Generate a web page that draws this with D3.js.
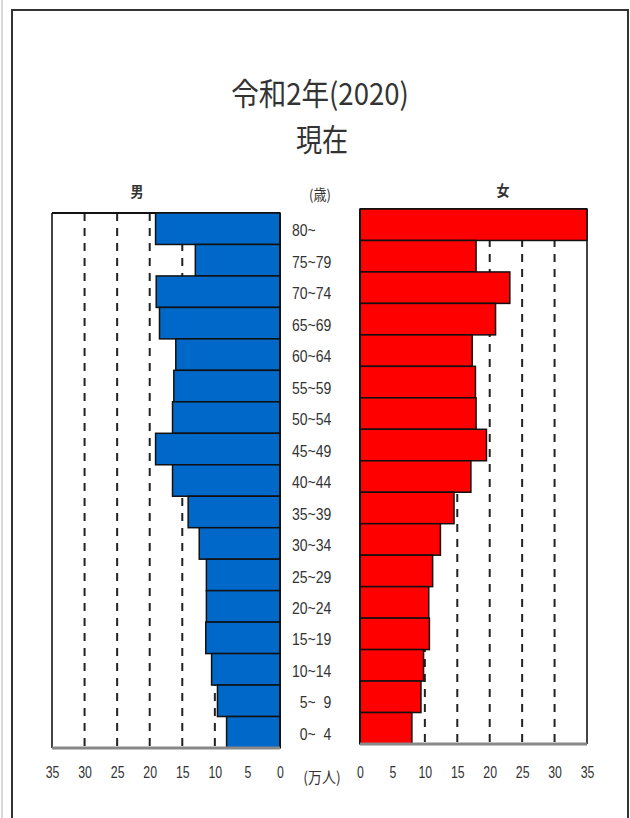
<!DOCTYPE html>
<html>
<head>
<meta charset="utf-8">
<script src="https://cdn.jsdelivr.net/npm/d3@7"></script>
<style>
  body { margin: 0; background: #fff; }
  text { font-family: "Liberation Sans", Arial, "Noto Sans CJK JP", sans-serif; fill: #333; }
  .cjk { font-family: "Noto Sans CJK JP", sans-serif; }
</style>
</head>
<body>
<svg id="chart"></svg>
<script>
// 年齢階級（上から）
const ages = ["80~", "75~79", "70~74", "65~69", "60~64", "55~59", "50~54", "45~49",
  "40~44", "35~39", "30~34", "25~29", "20~24", "15~19", "10~14", "\u20075~\u20079", "\u20070~\u20074"];
// 男（万人）
const male = [19.1, 13.0, 19.0, 18.5, 16.0, 16.3, 16.5, 19.1, 16.5, 14.1, 12.4, 11.3, 11.3, 11.4, 10.5, 9.6, 8.2];
// 女（万人）
const female = [35.0, 17.9, 23.1, 20.9, 17.3, 17.8, 17.9, 19.5, 17.1, 14.5, 12.4, 11.2, 10.6, 10.7, 9.8, 9.4, 8.0];
const ticks = [0, 5, 10, 15, 20, 25, 30, 35];
const gridTicks = [10, 15, 20, 25, 30];

const width = 630, height = 818;
const svg = d3.select("#chart").attr("width", width).attr("height", height);

// 外枠
svg.append("line").attr("x1", 2).attr("x2", 2).attr("y1", 0).attr("y2", height)
  .attr("stroke", "#ccc").attr("stroke-width", 1.5);
svg.append("rect").attr("x", 12).attr("y", 10).attr("width", 616).attr("height", 820)
  .attr("fill", "none").attr("stroke", "#333").attr("stroke-width", 2);

// 縦に少し伸ばした文字
function label(x, y, txt, size, sx, sy, cls) {
  return svg.append("text")
    .attr("class", cls || null)
    .attr("transform", `translate(${x},${y}) scale(${sx},${sy})`)
    .attr("text-anchor", "middle")
    .style("font-size", size + "px")
    .text(txt);
}

label(320, 105, "令和2年(2020)", 29, 0.95, 1.05, "cjk");
label(322, 151, "現在", 29, 0.9, 1.05, "cjk");
label(137, 197, "男", 13, 1, 1.1, "cjk").style("font-weight", 700);
label(503, 196, "女", 13, 1, 1.1, "cjk").style("font-weight", 700);
label(320, 200, "(歳)", 13, 1, 1.1, "cjk");
label(322, 783, "(万人)", 14, 1, 1.1, "cjk");

const xm = d3.scaleLinear().domain([0, 35]).range([280, 52]);
const xf = d3.scaleLinear().domain([0, 35]).range([360, 587]);
const ym = d3.scaleBand().domain(ages).range([213, 748]).padding(0);
const yf = d3.scaleBand().domain(ages).range([209, 744]).padding(0);

function panel(x, y, values, color) {
  const g = svg.append("g");
  const [y0, y1] = y.range();
  const [a, b] = x.range();
  // 破線
  g.selectAll(".grid").data(gridTicks).enter().append("line")
    .attr("x1", d => x(d)).attr("x2", d => x(d))
    .attr("y1", y0).attr("y2", y1)
    .attr("stroke", "#222").attr("stroke-width", 2)
    .attr("stroke-dasharray", "8,7");
  // 枠
  g.append("line").attr("x1", x(35)).attr("x2", x(35)).attr("y1", y0).attr("y2", y1)
    .attr("stroke", "#444").attr("stroke-width", 2);
  g.append("line").attr("x1", a).attr("x2", b).attr("y1", y0).attr("y2", y0)
    .attr("stroke", "#111").attr("stroke-width", 2);
  // 棒
  g.selectAll(".bar").data(values).enter().append("rect")
    .attr("x", d => Math.min(x(0), x(Math.min(d, 35))))
    .attr("width", d => Math.abs(x(Math.min(d, 35)) - x(0)))
    .attr("y", (d, i) => y(ages[i]))
    .attr("height", y.bandwidth())
    .attr("fill", color)
    .attr("stroke", "#111").attr("stroke-width", 1.5);
  g.append("line").attr("x1", x(0)).attr("x2", x(0)).attr("y1", y0).attr("y2", y1)
    .attr("stroke", "#111").attr("stroke-width", 2);
  g.append("line").attr("x1", a).attr("x2", b).attr("y1", y1).attr("y2", y1)
    .attr("stroke", "#888").attr("stroke-width", 3);

  // 目盛
  const axis = svg.append("g")
    .attr("transform", "translate(0,772)")
    .call(d3.axisBottom(x).tickValues(ticks).tickSize(0).tickPadding(0));
  axis.select(".domain").remove();
  axis.selectAll("text")
    .attr("y", 0).attr("dy", "0.35em")
    .style("font-size", "14px")
    .style("fill", "#333")
    .style("font-family", '"Liberation Sans", Arial, sans-serif')
    .attr("transform", "scale(0.88,1.2)");
}

panel(xm, ym, male, "#0068c8");
panel(xf, yf, female, "#ff0000");

// 年齢ラベル
svg.append("g").selectAll("text").data(ages).enter().append("text")
  .attr("transform", d => `translate(292,${ym(d) + ym.bandwidth() / 2 + 2}) scale(1,1.15)`)
  .attr("dy", "0.35em")
  .style("font-size", "14px")
  .text(d => d);
</script>
</body>
</html>
